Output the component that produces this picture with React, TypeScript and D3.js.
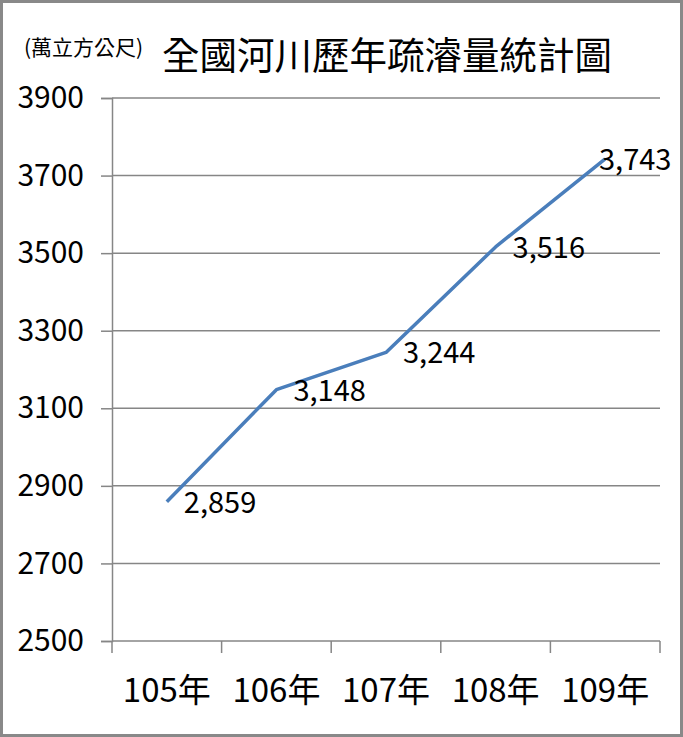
import React, { useEffect, useRef } from 'react';
import { axisBottom, axisLeft, line, scaleBand, scaleLinear, select } from 'd3';

const years = ['105年', '106年', '107年', '108年', '109年'];
const volumes = [2859, 3148, 3244, 3516, 3743];
const yTicks = [2500, 2700, 2900, 3100, 3300, 3500, 3700, 3900];

const FONT = '"Noto Sans CJK TC", "Noto Sans", sans-serif';
const GRID = '#868686';

const WIDTH = 683;
const HEIGHT = 737;
const margin = { top: 98, right: 23, bottom: 96, left: 112 };
const innerW = WIDTH - margin.left - margin.right;
const innerH = HEIGHT - margin.top - margin.bottom;

function fmt(v: number) {
  return v.toLocaleString('en-US');
}

function AxisLeft({ scale }: { scale: any }) {
  const ref = useRef<SVGGElement>(null);

  useEffect(() => {
    if (ref.current) {
      select(ref.current)
        .call(
          axisLeft(scale)
            .tickValues(yTicks)
            .tickSize(11)
            .tickPadding(17)
            .tickFormat((d: any) => String(d))
        )
        .call((g) => {
          g.select('.domain').attr('stroke', GRID).attr('stroke-width', 1.5);
          g.selectAll('.tick line').attr('stroke', GRID).attr('stroke-width', 1.5);
          g.selectAll('.tick text')
            .attr('font-size', 30)
            .attr('font-family', FONT)
            .attr('fill', '#000')
            .attr('dy', '0.32em');
        });
    }
  }, [scale]);

  return <g ref={ref} />;
}

function AxisBottom({ scale, transform }: { scale: any; transform: string }) {
  const ref = useRef<SVGGElement>(null);

  useEffect(() => {
    if (ref.current) {
      select(ref.current)
        .call(axisBottom(scale).tickSize(0).tickPadding(38))
        .call((g) => {
          g.select('.domain').remove();
          g.selectAll('.tick text')
            .attr('font-size', 33)
            .attr('font-family', FONT)
            .attr('fill', '#000');
        });
    }
  }, [scale]);

  return <g ref={ref} transform={transform} />;
}

export default function App() {
  const scaleX = scaleBand().domain(years).range([0, innerW]);
  const scaleY = scaleLinear().domain([2500, 3900]).range([innerH, 0]);
  const cx = (d: string) => (scaleX(d) ?? 0) + scaleX.bandwidth() / 2;

  const path = line<number>()
    .x((_, i) => cx(years[i]))
    .y((v) => scaleY(v))(volumes);

  // band edges for the little ticks under the x axis
  const edges = years.map((d) => scaleX(d) ?? 0).concat(innerW);

  return (
    <svg
      width={WIDTH}
      height={HEIGHT}
      style={{ position: 'absolute', left: 0, top: 0, background: '#fff' }}
    >
      <rect
        x={1.5}
        y={1.5}
        width={WIDTH - 3}
        height={HEIGHT - 3}
        fill="#fff"
        stroke="#898989"
        strokeWidth={3}
      />
      <text x={24} y={55} fontSize={21} fontFamily={FONT} fill="#000">
        (萬立方公尺)
      </text>
      <text
        x={387}
        y={69}
        fontSize={37.5}
        fontFamily={FONT}
        textAnchor="middle"
        fill="#000"
      >
        全國河川歷年疏濬量統計圖
      </text>
      <g transform={`translate(${margin.left}, ${margin.top})`}>
        {yTicks.map((t) => (
          <line
            key={`grid-${t}`}
            x1={0}
            x2={innerW}
            y1={scaleY(t)}
            y2={scaleY(t)}
            stroke={GRID}
            strokeWidth={1.5}
          />
        ))}
        {edges.map((x, i) => (
          <line
            key={`xt-${i}`}
            x1={x}
            x2={x}
            y1={innerH}
            y2={innerH + 12}
            stroke={GRID}
            strokeWidth={1.5}
          />
        ))}
        <AxisLeft scale={scaleY} />
        <AxisBottom scale={scaleX} transform={`translate(0, ${innerH})`} />
        <path
          d={path ?? ''}
          fill="none"
          stroke="#4A7EBB"
          strokeWidth={3.5}
          strokeLinejoin="round"
        />
        {volumes.map((v, i) => {
          const x = cx(years[i]);
          // keep the last label inside the frame
          const lx = Math.min(x + 17, innerW + 14 - 75);
          return (
            <text
              key={`lbl-${i}`}
              x={lx}
              y={scaleY(v) + 11}
              fontSize={29}
              fontFamily={FONT}
              fill="#000"
            >
              {fmt(v)}
            </text>
          );
        })}
      </g>
    </svg>
  );
}
